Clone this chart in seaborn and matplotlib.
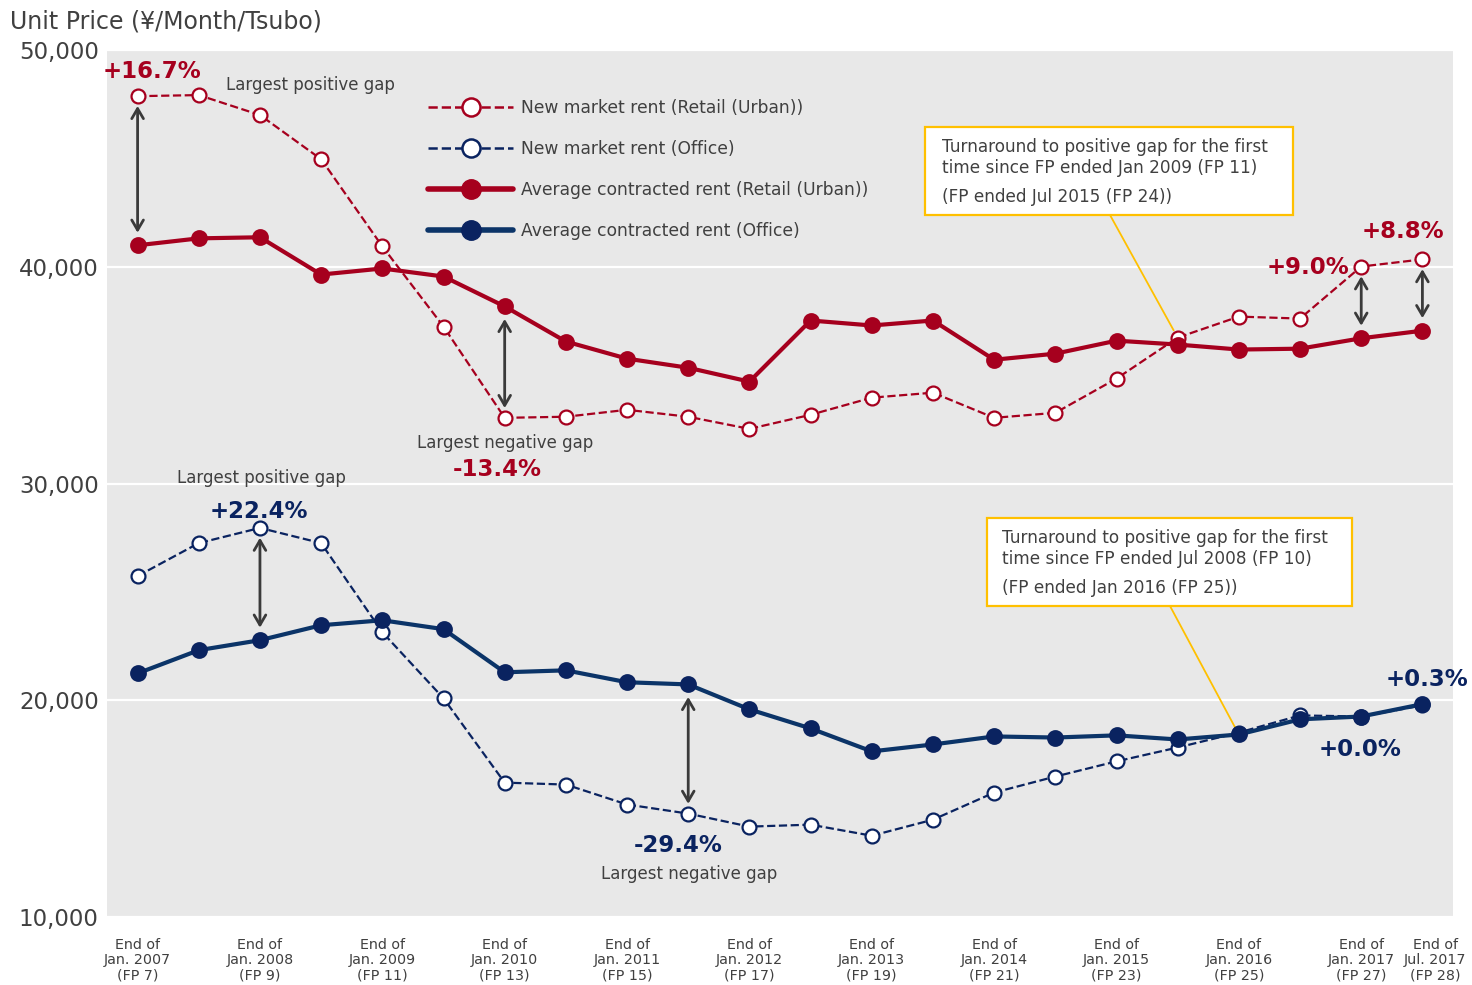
import matplotlib.lines as mlines
import matplotlib.patches as mpatches
import matplotlib.pyplot as plt
import matplotlib.transforms as mtransforms
import pandas as pd
import seaborn as sns

# fiscal periods FP7 .. FP28
periods = [f"FP {n}" for n in range(7, 29)]

retail_new = [47870, 47920, 47000, 44960, 40940, 37240, 33030, 33080, 33400, 33080, 32520,
              33170, 33960, 34190, 33030, 33260, 34840, 36730, 37700, 37610, 40010, 40340]
retail_avg = [40990, 41310, 41360, 39640, 39920, 39550, 38170, 36550, 35760, 35340, 34700,
              37520, 37290, 37520, 35710, 35990, 36590, 36410, 36180, 36220, 36700, 37050]
office_new = [25730, 27250, 27950, 27250, 23140, 20090, 16200, 16110, 15190, 14770, 14170,
              14260, 13750, 14490, 15740, 16480, 17180, 17820, 18510, 19300, 19250, 19760]
office_avg = [21240, 22310, 22770, 23460, 23690, 23280, 21290, 21380, 20830, 20730, 19580,
              18700, 17640, 17960, 18330, 18280, 18380, 18190, 18420, 19120, 19250, 19820]

tick_idx = [0, 2, 4, 6, 8, 10, 12, 14, 16, 18, 20, 21]
tick_labels = [
    "End of\nJan. 2007\n(FP 7)", "End of\nJan. 2008\n(FP 9)", "End of\nJan. 2009\n(FP 11)",
    "End of\nJan. 2010\n(FP 13)", "End of\nJan. 2011\n(FP 15)", "End of\nJan. 2012\n(FP 17)",
    "End of\nJan. 2013\n(FP 19)", "End of\nJan. 2014\n(FP 21)", "End of\nJan. 2015\n(FP 23)",
    "End of\nJan. 2016\n(FP 25)", "End of\nJan. 2017\n(FP 27)", "End of\nJul. 2017\n(FP 28)",
]

names = ["New market rent (Retail (Urban))", "New market rent (Office)",
         "Average contracted rent (Retail (Urban))", "Average contracted rent (Office)"]

df = pd.concat([
    pd.DataFrame({"idx": range(len(periods)), "period": periods, "rent": vals, "series": nm})
    for nm, vals in zip(names, [retail_new, office_new, retail_avg, office_avg])
])

RED = "#A6001E"
NAVY = "#0B3468"
NAVY_DOT = "#0A2360"
GRAY = "#404040"

sns.set_theme(style="darkgrid", rc={
    "axes.facecolor": "#E8E8E8",
    "grid.color": "white",
    "grid.linewidth": 1.6,
})
plt.rcParams["font.family"] = ["DejaVu Sans"]

fig = plt.figure(figsize=(14.72, 9.85), dpi=100)
ax = fig.add_axes([107 / 1472, 68 / 985, 1346 / 1472, 867 / 985])

styles = {
    names[0]: dict(color=RED, linestyle="--", lw=1.6, mfc="white", mec=RED, z=2),
    names[1]: dict(color=NAVY_DOT, linestyle="--", lw=1.6, mfc="white", mec=NAVY_DOT, z=2),
    names[2]: dict(color=RED, linestyle="-", lw=3.0, mfc=RED, mec=RED, z=3),
    names[3]: dict(color=NAVY, linestyle="-", lw=3.0, mfc=NAVY_DOT, mec=NAVY_DOT, z=3),
}
for nm in names:
    s = styles[nm]
    sns.lineplot(data=df[df["series"] == nm], x="idx", y="rent", ax=ax, legend=False,
                 color=s["color"], linestyle=s["linestyle"], linewidth=s["lw"],
                 marker="o", markersize=10.5 if s["linestyle"] == "-" else 10,
                 markerfacecolor=s["mfc"], markeredgecolor=s["mec"],
                 markeredgewidth=1.6, zorder=s["z"])

ax.set_xlim(-0.5, 21.5)
ax.set_ylim(10000, 50000)
ax.set_yticks([10000, 20000, 30000, 40000, 50000])
ax.set_yticklabels(["10,000", "20,000", "30,000", "40,000", "50,000"])
ax.set_xticks(tick_idx)
ax.set_xticklabels(tick_labels, linespacing=1.12)
ax.tick_params(axis="y", labelsize=16.5, colors=GRAY, pad=0)
ax.tick_params(axis="x", labelsize=10.3, colors=GRAY, pad=9)
ax.grid(False, axis="x")
ax.set_xlabel("")
ax.set_ylabel("")
for sp in ax.spines.values():
    sp.set_visible(False)

# the last period label sits a little to the right of its tick in the original
last = ax.get_xticklabels()[-1]
last.set_transform(last.get_transform() + mtransforms.ScaledTranslation(0.13, 0, fig.dpi_scale_trans))

fig.text(10 / 1472, 1 - 22 / 985, "Unit Price (¥/Month/Tsubo)", fontsize=17, color=GRAY,
         ha="left", va="center")


def af(x, y):
    # pixel position in the picture -> axes fraction
    return ((x - 107) / 1346, (917 - y) / 867)


def label(x, y, text, color=GRAY, size=12, bold=False):
    ax.text(*af(x, y), text, transform=ax.transAxes, ha="center", va="center",
            color=color, fontsize=size, fontweight="bold" if bold else "normal")


def gap_arrow(i, new, avg):
    ax.annotate("", xy=(i, avg[i]), xytext=(i, new[i]),
                arrowprops=dict(arrowstyle="<->,head_length=0.6,head_width=0.35",
                                color="#3A3A3A", lw=2, shrinkA=7, shrinkB=9),
                zorder=4)


# retail annotations
label(152, 72, "+16.7%", RED, 16.5, True)
label(310, 85, "Largest positive gap")
label(505, 443, "Largest negative gap")
label(497, 470, "-13.4%", RED, 16.5, True)
label(1308, 267, "+9.0%", RED, 16.5, True)
label(1403, 232, "+8.8%", RED, 16.5, True)
for i in [0, 6, 20, 21]:
    gap_arrow(i, retail_new, retail_avg)

# office annotations
label(261, 478, "Largest positive gap")
label(259, 511, "+22.4%", NAVY_DOT, 16.5, True)
label(678, 846, "-29.4%", NAVY_DOT, 16.5, True)
label(689, 874, "Largest negative gap")
label(1427, 679, "+0.3%", NAVY_DOT, 16.5, True)
label(1360, 750, "+0.0%", NAVY_DOT, 16.5, True)
for i in [2, 9]:
    gap_arrow(i, office_new, office_avg)


def callout(box, lines, anchor, target):
    x0, y0, x1, y1 = box
    (ax0, ay0), (ax1, ay1) = af(x0, y1), af(x1, y0)
    ax.add_patch(mpatches.Rectangle((ax0, ay0), ax1 - ax0, ay1 - ay0, transform=ax.transAxes,
                                    facecolor="white", edgecolor="#FFC000", lw=1.6, zorder=5))
    for (tx, ty, t) in lines:
        ax.text(*af(tx, ty), t, transform=ax.transAxes, ha="left", va="center",
                color=GRAY, fontsize=12.2, zorder=6)
    ax.annotate("", xy=target, xycoords="data", xytext=af(*anchor), textcoords="axes fraction",
                arrowprops=dict(arrowstyle="-", color="#FFC000", lw=1.3, shrinkA=0, shrinkB=6),
                zorder=1)


callout((925, 127, 1293, 215),
        [(942, 147, "Turnaround to positive gap for the first"),
         (942, 168, "time since FP ended Jan 2009 (FP 11)"),
         (942, 197, "(FP ended Jul 2015 (FP 24))")],
        (1110, 215), (17, retail_new[17]))
callout((987, 518, 1352, 606),
        [(1002, 538, "Turnaround to positive gap for the first"),
         (1002, 559, "time since FP ended Jul 2008 (FP 10)"),
         (1002, 588, "(FP ended Jan 2016 (FP 25))")],
        (1170, 606), (18, office_avg[18]))

# legend
handles = [
    mlines.Line2D([], [], color=RED, ls="--", lw=1.8, marker="o", ms=13, mfc="white",
                  mec=RED, mew=1.8),
    mlines.Line2D([], [], color=NAVY_DOT, ls="--", lw=1.8, marker="o", ms=13, mfc="white",
                  mec=NAVY_DOT, mew=1.8),
    mlines.Line2D([], [], color=RED, ls="-", lw=4, marker="o", ms=14, mfc=RED, mec=RED),
    mlines.Line2D([], [], color=NAVY, ls="-", lw=4, marker="o", ms=14, mfc=NAVY_DOT,
                  mec=NAVY_DOT),
]
leg = ax.legend(handles=handles, labels=names, loc="upper left",
                bbox_to_anchor=(428 / 1472, 1 - 99 / 985), bbox_transform=fig.transFigure,
                frameon=False, fontsize=12.3, handlelength=5.0, handletextpad=0.45,
                labelspacing=1.35, borderpad=0, borderaxespad=0)
for t in leg.get_texts():
    t.set_color(GRAY)

fig.savefig("out.png", dpi=100)
